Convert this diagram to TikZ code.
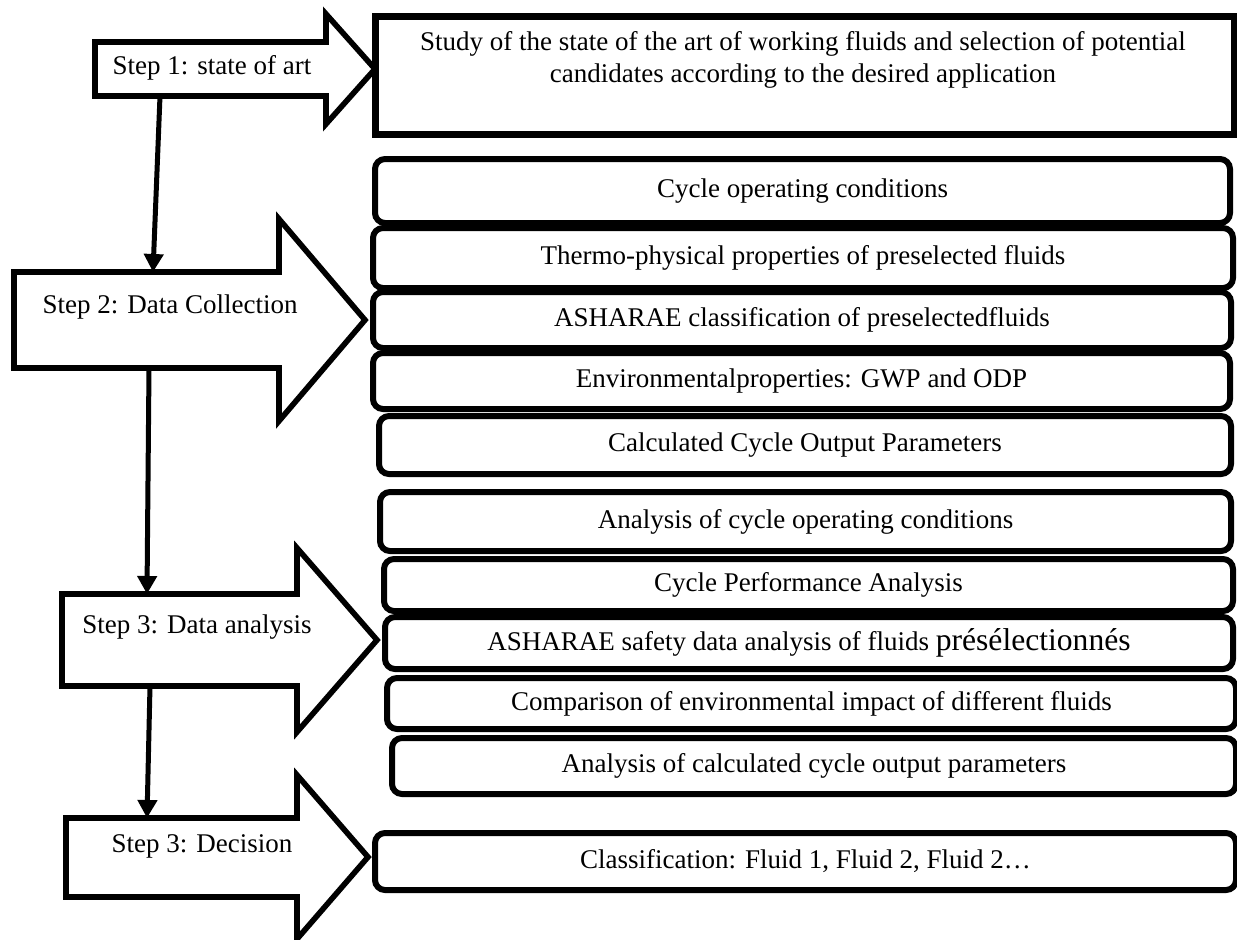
\documentclass[tikz,border=0pt]{standalone}
\usepackage{fontspec}
\setmainfont{Liberation Serif}
\usetikzlibrary{arrows.meta}

\begin{document}
\begin{tikzpicture}[x=0.5pt, y=-0.5pt,
    every node/.style={font=\fontsize{13.5}{16}\selectfont},
    steparrow/.style={draw, line width=2.8pt, fill=white},
    steptext/.style={anchor=base, inner sep=0pt},
    artbox/.style={rectangle, draw, line width=3.3pt, fill=white, inner sep=0pt, anchor=north west},
    fluidbox/.style={rectangle, draw, line width=3pt, rounded corners=5pt, fill=white, inner sep=0pt, anchor=north west},
    link/.style={-{Triangle[length=9pt, width=9.5pt]}, line width=2.5pt}]
    \useasboundingbox (0,0) rectangle (1237,939);
    %
    % step arrows
    \draw[steparrow] (95,42) -- (326,42) -- (326,14) -- (375,69) -- (326,124) -- (326,96) -- (95,96) -- cycle;
    \draw[steparrow] (14,272) -- (279,272) -- (279,219) -- (365,320) -- (279,421) -- (279,368) -- (14,368) -- cycle;
    \draw[steparrow] (62,594) -- (297,594) -- (297,548) -- (377,640) -- (297,732) -- (297,686) -- (62,686) -- cycle;
    \draw[steparrow] (66,818) -- (297,818) -- (297,775) -- (368,857) -- (297,939) -- (297,897) -- (66,897) -- cycle;
    \node[steptext] (s1) at (212,74) {Step 1: state of art};
    \node[steptext] (s2) at (170,313) {Step 2: Data Collection};
    \node[steptext] (s3) at (197,633) {Step 3: Data analysis};
    \node[steptext] (s4) at (202,852) {Step 3: Decision};
    %
    \coordinate (s1out) at (160,96);
    \coordinate (s2in) at (153,272);
    \coordinate (s2out) at (149,368);
    \coordinate (s3in) at (147,594);
    \coordinate (s3out) at (150,686);
    \coordinate (s4in) at (147,818);
    %
    % step 1
    \node[artbox, minimum width=429.5pt, minimum height=59pt] (art) at (372,13) {};
    \node[align=center, anchor=north, inner sep=0pt] (arttext) at (803,31) {Study of the state of the art of working fluids and selection of potential\\candidates according to the desired application};
    %
    % step 2
    \node[fluidbox, minimum width=427.5pt, minimum height=32pt] (cond) at (372,156) {Cycle operating conditions};
    \node[fluidbox, minimum width=430pt, minimum height=30pt] (prop) at (370,225) {Thermo-physical properties of preselected fluids};
    \node[fluidbox, minimum width=429pt, minimum height=28pt] (ashclass) at (370,289) {ASHARAE classification of preselectedfluids};
    \node[fluidbox, minimum width=428.5pt, minimum height=28pt] (env) at (370,350) {Environmentalproperties: GWP and ODP};
    \node[fluidbox, minimum width=426pt, minimum height=29pt] (output) at (376,413) {Calculated Cycle Output Parameters};
    %
    % step 3
    \node[fluidbox, minimum width=425.5pt, minimum height=29.5pt] (condan) at (377,489) {Analysis of cycle operating conditions};
    \node[fluidbox, minimum width=424.5pt, minimum height=26pt] (perf) at (381,556) {Cycle Performance Analysis};
    \node[fluidbox, minimum width=424pt, minimum height=26pt] (ashsafe) at (382,614) {ASHARAE safety data analysis of fluids {\fontsize{15.8}{18}\selectfont présélectionnés}};
    \node[fluidbox, minimum width=424.5pt, minimum height=25.5pt] (envcomp) at (384,675) {Comparison of environmental impact of different fluids};
    \node[fluidbox, minimum width=422pt, minimum height=28pt] (outan) at (389,735) {Analysis of calculated cycle output parameters};
    %
    % decision
    \node[fluidbox, minimum width=430.5pt, minimum height=28.5pt] (rank) at (372,830) {Classification: Fluid 1, Fluid 2, Fluid 2…};
    %
    \draw[link] (s1out) -- (s2in);
    \draw[link] (s2out) -- (s3in);
    \draw[link] (s3out) -- (s4in);
\end{tikzpicture}
\end{document}
